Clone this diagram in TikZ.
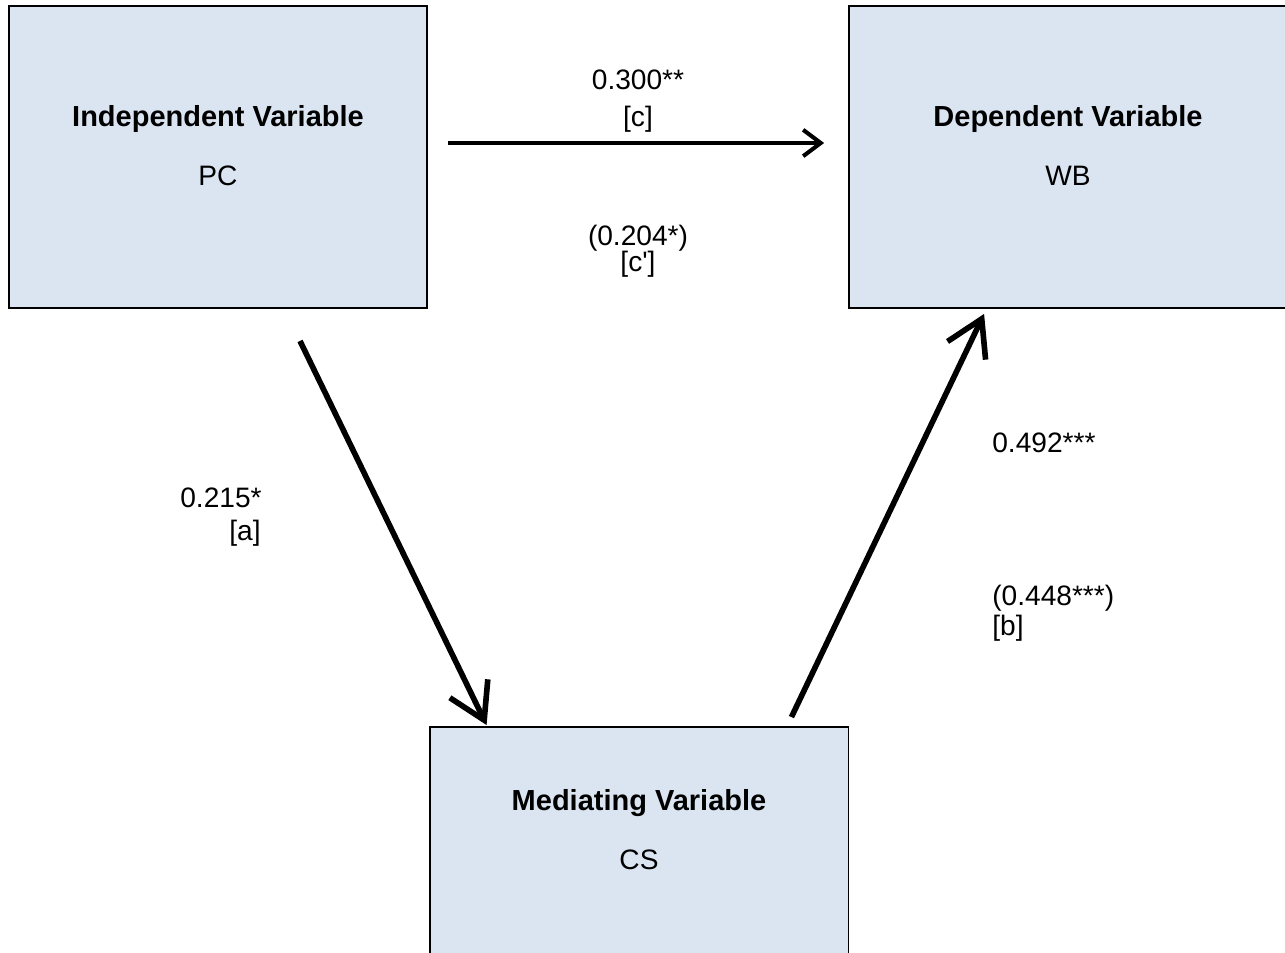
\documentclass[tikz,border=0pt]{standalone}
\usepackage{fontspec}
\setmainfont{Liberation Sans}
\usetikzlibrary{arrows.meta,positioning,calc}
\definecolor{boxfill}{HTML}{DBE5F1}
\tikzset{
  varbox/.style={draw=black, fill=boxfill, line width=1.1pt, inner sep=0pt},
  varname/.style={font=\fontsize{16.5}{20}\selectfont\bfseries, anchor=base, inner sep=0pt},
  varabbr/.style={font=\fontsize{16}{19}\selectfont, anchor=base, inner sep=0pt},
  coef/.style={font=\fontsize{16}{19}\selectfont, inner sep=0pt},
  directarr/.style={-{Straight Barb[length=10pt,width=15pt]}, line width=2.3pt},
  medarr/.style={-{Straight Barb[length=20pt,width=24pt]}, line width=3.2pt}
}

\begin{document}
\begin{tikzpicture}[x=0.02cm, y=-0.02cm]
  \useasboundingbox (0,0) rectangle (1285,953);
  % Variable boxes
  \node[varbox, minimum width=8.36cm, minimum height=6.04cm] (iv) at (218,157) {};
  \node[varbox, minimum width=8.9cm, minimum height=6.04cm] (dv) at (1071.5,157) {};
  \node[varbox, minimum width=8.38cm, minimum height=6.2cm] (mv) at (639,882) {};

  \node[varname] (ivname) at (218,127) {Independent Variable};
  \node[varabbr] (ivabbr) at (218,185) {PC};
  \node[varname] (dvname) at (1068,127) {Dependent Variable};
  \node[varabbr] (dvabbr) at (1068,185) {WB};
  \node[varname] (mvname) at (639,810) {Mediating Variable};
  \node[varabbr] (mvabbr) at (639,869) {CS};

  % Paths
  \draw[directarr] ($(iv.east)+(20,-14)$) -- ($(dv.west)+(-24,-14)$);
  \draw[medarr] ($(iv.south)+(82,32)$) -- ($(mv.north west)+(58,-1)$);
  \draw[medarr] ($(mv.north east)+(-58,-9)$) -- ($(dv.south west)+(136,5)$);

  % Coefficients
  \node[coef, anchor=base] (cval) at (638,90) {0.300**};
  \node[coef, anchor=base] (cname) at (638,127) {[c]};
  \node[coef, anchor=base] (cpval) at (638,245) {(0.204*)};
  \node[coef, anchor=base] (cpname) at (638,271) {[c\textquotesingle]};
  \node[coef, anchor=base east] (aval) at (262,507) {0.215*};
  \node[coef, anchor=base east] (aname) at (261,540) {[a]};
  \node[coef, anchor=base west] (bval) at (992,452) {0.492***};
  \node[coef, anchor=base west] (bpval) at (992,605) {(0.448***)};
  \node[coef, anchor=base west] (bname) at (992,635) {[b]};
\end{tikzpicture}
\end{document}
